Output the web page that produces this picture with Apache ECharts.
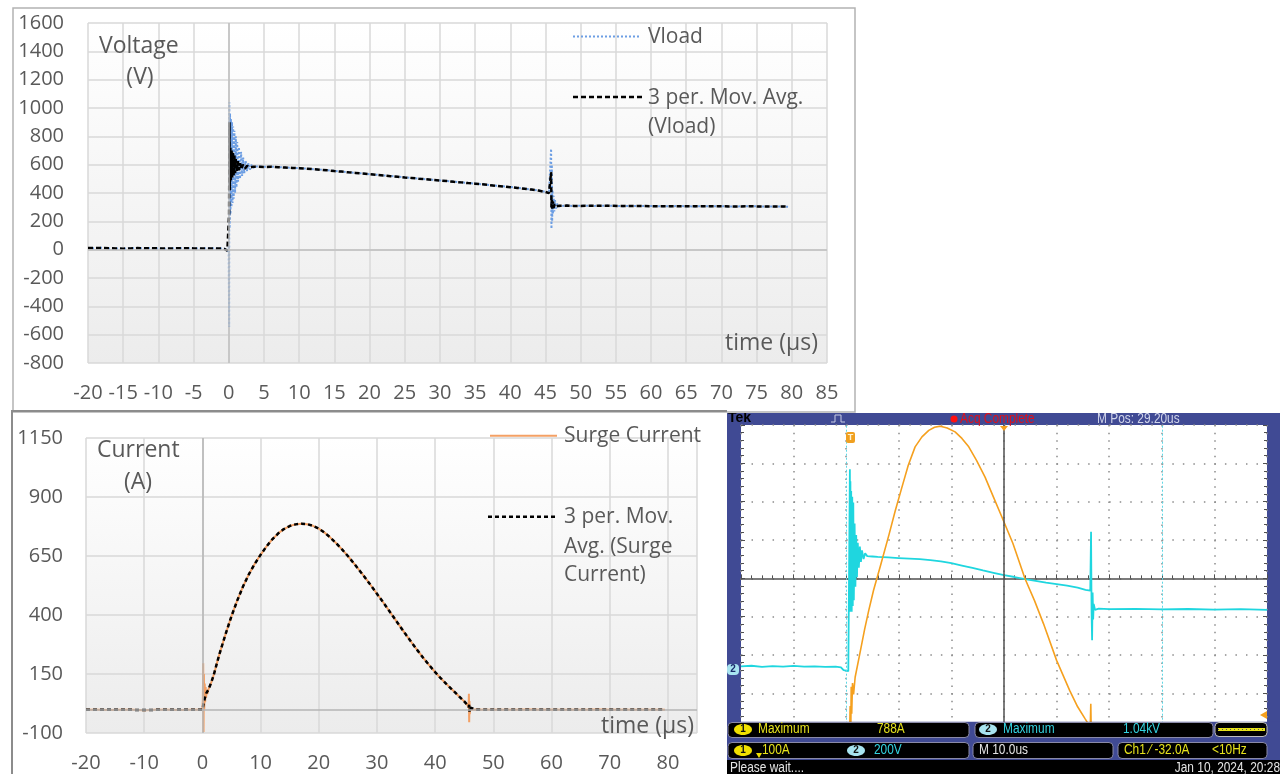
<!DOCTYPE html>
<html><head><meta charset="utf-8">
<script src="https://cdn.jsdelivr.net/npm/echarts@6.0.0/dist/echarts.min.js"></script>
<style>
html,body{margin:0;padding:0;background:#fff;width:1280px;height:774px;overflow:hidden;position:relative}
#topChart{position:absolute;left:0;top:0;width:1280px;height:413px}
#botChart{position:absolute;left:0;top:410px;width:727px;height:364px}
#scopeChart{position:absolute;left:727px;top:413px;width:553px;height:361px}
</style></head><body>
<div id="topChart"></div><div id="botChart"></div><div id="scopeChart"></div>
<script>
// ---------------- DATA (time in µs) ----------------
const vload = [
[-20,12],[-19,10],[-18,14],[-17,9],[-16,8],[-15,6],[-14,10],[-13,12],[-12,9],[-11,13],[-10,8],[-9,7],[-8,10],[-7,11],[-6,9],[-5,10],[-4,8],[-3,10],[-2,9],[-1,8],[-0.6,6],[-0.4,-4],[-0.2,-8],[-0.1,-6],[0,20],
[0.05,-546],[0.08,1040],[0.12,150],[0.18,960],[0.24,250],[0.3,925],[0.38,300],[0.46,900],[0.54,330],[0.62,870],[0.7,360],[0.8,840],[0.9,400],[1.0,800],[1.1,440],[1.2,760],[1.32,480],[1.45,724],[1.6,500],[1.75,690],[1.9,520],[2.05,650],[2.2,540],[2.4,625],[2.6,555],[2.8,610],[3.0,565],[3.25,600],[3.5,578],[4,588],
[5,585],[6,586],[7,583],[8,580],[9,578],[10,575],[11,572],[12,568],[13,565],[14,560],[15,556],[16,551],[17,547],[18,542],[19,538],[20,533],[21,529],[22,524],[23,520],[24,515],[25,511],[26,506],[27,502],[28,497],[29,493],[30,489],[31,484],[32,480],[33,475],[34,471],[35,466],[36,462],[37,457],[38,452],[39,447],[40,442],[41,437],[42,431],[43,425],[44,418],[45,408],[45.5,400],[45.7,392],
[45.8,712],[45.85,148],[45.9,600],[45.95,200],[46.0,420],[46.05,250],[46.15,380],[46.25,270],[46.35,350],[46.5,290],[46.7,325],[47,305],
[48,312],[49,308],[50,310],[52,309],[54,311],[56,307],[58,309],[60,308],[62,306],[64,308],[66,305],[68,307],[70,306],[72,305],[74,307],[76,304],[78,305],[79.5,303]
];
const vloadAvg = [
[-20,11],[-19,11],[-18,12],[-17,10],[-16,8],[-15,7],[-14,9],[-13,11],[-12,10],[-11,11],[-10,9],[-9,8],[-8,9],[-7,10],[-6,10],[-5,9],[-4,9],[-3,9],[-2,9],[-1,8],[-0.6,5],[-0.4,-2],[-0.2,-7],[-0.1,-4],[0,5],
[0.05,256],[0.1,900],[0.15,420],[0.22,720],[0.3,490],[0.4,700],[0.5,510],[0.6,690],[0.7,525],[0.8,665],[0.9,540],[1.0,640],[1.15,550],[1.3,625],[1.45,560],[1.6,610],[1.8,568],[2.0,600],[2.3,572],[2.6,592],[3.0,580],[3.5,586],[4,585],
[5,584],[6,585],[7,582],[8,580],[9,577],[10,575],[11,571],[12,568],[13,564],[14,560],[15,555],[16,551],[17,546],[18,542],[19,537],[20,533],[21,528],[22,524],[23,519],[24,515],[25,510],[26,506],[27,501],[28,497],[29,492],[30,488],[31,484],[32,479],[33,475],[34,470],[35,466],[36,461],[37,456],[38,451],[39,446],[40,441],[41,436],[42,430],[43,424],[44,417],[45,407],[45.5,399],[45.7,392],
[45.8,548],[45.85,300],[45.9,350],[45.95,290],[46.05,340],[46.15,295],[46.3,320],[46.5,305],[47,310],
[48,311],[49,309],[50,309],[52,310],[54,310],[56,308],[58,309],[60,307],[62,307],[64,307],[66,306],[68,306],[70,306],[72,305],[74,306],[76,305],[78,304],[79.5,304]
];
const surgeCurrent = [
[-20,-2],[-18,-1],[-16,-3],[-14,-1],[-12,-2],[-10,-4],[-8,-2],[-6,-1],[-4,-3],[-2,-2],[-0.5,-2],[0,-2],
[0.08,40],[0.14,195],[0.2,-96],[0.26,150],[0.32,0],[0.4,110],[0.48,30],[0.56,95],[0.64,50],[0.72,80],[0.85,65],[1,82],[1.5,112],[2,150],[2.5,196],[3,240],[4,320],[5,395],[6,462],[7,522],[8,573],[9,617],[10,655],[11,690],[12,720],[13,745],[14,764],[15,777],[16,784],[17,787],[18,785],[19,778],[20,766],[21,749],[22,728],[23,704],[24,678],[25,650],[26,620],[27,589],[28,557],[29,524],[30,490],[31,456],[32,421],[33,386],[34,351],[35,316],[36,282],[37,249],[38,217],[39,187],[40,158],[41,131],[42,106],[43,82],[44,58],[45,34],[45.5,20],[45.75,10],
[45.8,66],[45.85,-54],[45.9,35],[45.95,-20],[46.05,8],[46.3,-2],[47,0],[48,-1],[50,-2],[52,-1],[54,-2],[56,0],[58,-1],[60,-2],[62,-1],[64,-2],[66,-1],[68,0],[70,-1],[72,-2],[74,-1],[76,-1],[78,-2],[79.5,-1]
];
const currentAvg = [
[-20,-2],[-18,-2],[-16,-2],[-14,-2],[-12,-2],[-10,-3],[-8,-2],[-6,-2],[-4,-2],[-2,-2],[-0.5,-2],[0,-2],
[0.1,10],[0.2,25],[0.35,40],[0.5,55],[0.7,70],[1,82],[1.5,112],[2,150],[2.5,196],[3,240],[4,320],[5,395],[6,462],[7,522],[8,573],[9,617],[10,655],[11,690],[12,720],[13,745],[14,764],[15,777],[16,784],[17,787],[18,785],[19,778],[20,766],[21,749],[22,728],[23,704],[24,678],[25,650],[26,620],[27,589],[28,557],[29,524],[30,490],[31,456],[32,421],[33,386],[34,351],[35,316],[36,282],[37,249],[38,217],[39,187],[40,158],[41,131],[42,106],[43,82],[44,58],[45,34],[45.5,20],[45.75,10],
[45.85,20],[45.9,-10],[45.95,8],[46.1,0],[47,-1],[48,-1],[50,-1],[52,-1],[54,-1],[56,-1],[58,-1],[60,-1],[62,-1],[64,-1],[66,-1],[68,-1],[70,-1],[72,-1],[74,-1],[76,-1],[78,-1],[79.5,-1]
];
// oscilloscope traces
const scopeCh2Volts = [
[-20,15],[-18,18],[-16,12],[-14,16],[-12,14],[-10,17],[-8,13],[-6,15],[-4,12],[-2,14],[-1,10],[-0.5,-5],[0.4,-10],[0.55,-8],
[0.7,1043],[0.75,300],[0.8,980],[0.88,320],[0.95,930],[1.05,300],[1.15,900],[1.25,330],[1.35,870],[1.45,360],[1.6,760],[1.75,430],[1.9,700],[2.05,480],[2.2,660],[2.4,530],[2.6,640],[2.8,560],[3.0,620],[3.3,575],[3.6,605],[4,590],
[5,588],[6,586],[8,583],[10,580],[12,577],[14,574],[16,569],[18,562],[20,553],[22,541],[24,528],[26,515],[28,503],[30,491],[32,481],[34,470],[36,461],[38,452],[40,444],[42,436],[44,426],[45.5,414],[46.4,410],
[46.55,717],[46.65,300],[46.75,151],[46.85,400],[46.95,260],[47.05,340],[47.3,310],[48,316],[50,313],[55,315],[60,312],[65,314],[70,311],[75,313],[80,310]
];
const scopeCh1Amps = [
[-20,0],[0.4,0],[0.6,-60],[0.75,60],[0.85,-40],[0.95,110],[1.05,40],[1.2,120],[1.4,90],[1.7,135],[2.5,190],[3.5,260],[4.3,310],[5.2,362],[6.5,425],[8.1,505],[9.3,568],[10.6,631],[11.8,688],[13.1,736],[14.4,762],[15.7,779],[16.8,787],[17.9,790],[19.2,785],[20.7,775],[22,758],[23.3,736],[24.8,700],[26.4,657],[28,605],[29.6,553],[31.7,484],[34,392],[35.8,335],[37.5,275],[40,179],[42.5,100],[44,58],[45.4,27],[46.4,5],[46.5,66],[46.6,-20],[47,0],[80,0]
];
const voltTitle = ['Voltage', '(V)'];
const currTitle = ['Current', '(A)'];
const SCOPE_V_PER_DIV = 200, SCOPE_A_PER_DIV = 100;
const CH2_OFFSET_DIV = -2.37, CH1_OFFSET_DIV = -3.93;

// ---------------- STYLE HELPERS ----------------
const GRAY = '#595959';
const OS = '"Open Sans", sans-serif';
const TEK = '"Liberation Sans", Arial, sans-serif';
const plain = v => String(v);
function plotBg(){ return new echarts.graphic.LinearGradient(0,0,0,1,[{offset:0,color:'#ffffff'},{offset:1,color:'#ececec'}]); }
function xAx(min,max,interval,showMax){ return {type:'value',min,max,interval,
  axisLine:{show:false,onZero:false},axisTick:{show:false},
  splitLine:{show:true,lineStyle:{color:'#d9d9d9',width:1.5}},
  axisLabel:{color:GRAY,fontFamily:OS,fontSize:20,margin:20,formatter:plain,showMaxLabel:showMax}}; }
function yAx(min,max,interval,margin){ return {type:'value',min,max,interval,
  axisLine:{show:false,onZero:false},axisTick:{show:false},
  splitLine:{show:true,lineStyle:{color:'#d9d9d9',width:1.5}},
  axisLabel:{color:GRAY,fontFamily:OS,fontSize:20,margin,formatter:plain}}; }
function txt(x,y,text,size,align){ return {type:'text',x,y,silent:true,z:50,
  style:{text,fill:GRAY,font:size+'px '+OS,textAlign:align||'left',verticalAlign:'middle'}}; }
function ln(x1,y1,x2,y2,stroke,w,dash,z){ return {type:'line',silent:true,z:z||50,shape:{x1,y1,x2,y2},style:{stroke,lineWidth:w,lineDash:dash||null}}; }
const zeroLines = (c)=>({silent:true,symbol:['none','none'],label:{show:false},animation:false,
  lineStyle:{color:c,width:1.5,type:'solid'},data:[{yAxis:0},{xAxis:0}]});

// ---------------- TOP: VOLTAGE ----------------
const voltChart = echarts.init(document.getElementById('topChart'), null, {renderer:'canvas'});
voltChart.setOption({
  animation:false,
  grid:{left:88,top:23,width:739,height:340,show:true,backgroundColor:plotBg(),borderWidth:0},
  xAxis:xAx(-20,85,5,true),
  yAxis:yAx(-800,1600,200,24),
  series:[
    {name:'Vload',type:'line',data:vload,symbol:'none',z:2,
     lineStyle:{color:'#6d9ee3',width:2,type:[2,2]},markLine:zeroLines('#bfbfbf')},
    {name:'3 per. Mov. Avg. (Vload)',type:'line',data:vloadAvg,symbol:'none',z:3,
     lineStyle:{color:'#000000',width:2.5,type:[5,3]}}
  ],
  graphic:[
    {type:'rect',silent:true,z:-5,shape:{x:13,y:8,width:842,height:404},style:{fill:'none',stroke:'#b3b3b3',lineWidth:1.5}},
    txt(99,46,voltTitle[0],23),
    txt(140,77,voltTitle[1],23,'center'),
    ln(573,36.5,641,36.5,'#6d9ee3',2,[2,2]),
    txt(648,37,'Vload',21),
    ln(573,97,642,97,'#000',2.5,[5,3]),
    txt(648,98,'3 per. Mov. Avg.',21),
    txt(648,127,'(Vload)',21),
    txt(818,343,'time (µs)',23,'right')
  ]
});

// ---------------- BOTTOM: CURRENT ----------------
const currChart = echarts.init(document.getElementById('botChart'), null, {renderer:'canvas'});
currChart.setOption({
  animation:false,
  grid:{left:86,top:28,width:611,height:295,show:true,backgroundColor:plotBg(),borderWidth:0},
  xAxis:xAx(-20,85,10,false),
  yAxis:yAx(-100,1150,250,23),
  series:[
    {name:'Surge Current',type:'line',data:surgeCurrent,symbol:'none',z:2,
     lineStyle:{color:'#f4a064',width:2},markLine:zeroLines('#b5b5b5')},
    {name:'3 per. Mov. Avg. (Surge Current)',type:'line',data:currentAvg,symbol:'none',z:3,
     lineStyle:{color:'#000000',width:2.5,type:[4,3]}}
  ],
  graphic:[
    {type:'polyline',silent:true,z:-5,shape:{points:[[12,364],[12,1],[727,1]]},style:{fill:null,stroke:'#8c8c8c',lineWidth:2}},
    txt(97,40,currTitle[0],23),
    txt(138,72,currTitle[1],23,'center'),
    ln(490,25.7,557,25.7,'#f4a064',2),
    txt(564,26,'Surge Current',21),
    ln(488,106.7,557,106.7,'#000',2.5,[4,3]),
    txt(564,107,'3 per. Mov.',21),
    txt(564,137,'Avg. (Surge',21),
    txt(564,165,'Current)',21),
    txt(694,316,'time (µs)',23,'right')
  ]
});

// ---------------- OSCILLOSCOPE ----------------
function tt(x,y,text,fill,opts){ opts=opts||{}; return {type:'text',x,y,silent:true,z:100,scaleX:opts.sx||0.85,
  style:{text,fill,font:(opts.bold?'bold ':'')+(opts.size||14)+'px '+TEK,textAlign:opts.align||'left',verticalAlign:'middle'}}; }
function badge(cx,cy,label,fill){ return [
  {type:'ellipse',silent:true,z:100,shape:{cx,cy,rx:9,ry:5.5},style:{fill}},
  {type:'text',silent:true,z:101,x:cx,y:cy,style:{text:label,fill:'#111',font:'bold 10px '+TEK,textAlign:'center',verticalAlign:'middle'}}]; }
function box(x,y,w,h,stroke){ return {type:'rect',silent:true,z:99,shape:{x,y,width:w,height:h,r:4},style:{fill:'#000',stroke:stroke||'#8a8aa8',lineWidth:1}}; }
const YEL='#e6e21c', CYA='#33d3e0';
const scopeChart = echarts.init(document.getElementById('scopeChart'), null, {renderer:'canvas'});
scopeChart.setOption({
  animation:false,
  backgroundColor:'#404a94',
  grid:{left:14,top:12,width:526,height:306.7,show:true,backgroundColor:'#ffffff',borderWidth:0},
  xAxis:{type:'value',min:-20,max:80,interval:10,
    axisLine:{show:true,onZero:true,lineStyle:{color:'#505050',width:1.5}},
    axisTick:{show:true,inside:true,length:4,lineStyle:{color:'#505050'}},
    minorTick:{show:true,splitNumber:5,length:3,lineStyle:{color:'#505050'}},
    axisLabel:{show:false},
    splitLine:{show:true,lineStyle:{color:'#8c8c8c',width:1.5,type:[1.5,6.16]}}},
  yAxis:[
    {type:'value',min:-4,max:4,interval:1,
     axisLine:{show:false,onZero:false},
     axisTick:{show:true,inside:true,length:4,lineStyle:{color:'#505050'}},
     minorTick:{show:true,splitNumber:5,length:3,lineStyle:{color:'#505050'}},
     axisLabel:{show:false},
     splitLine:{show:true,lineStyle:{color:'#8c8c8c',width:1.5,type:[1.5,9.02]}}},
    {type:'value',min:-4,max:4,interval:1,position:'right',
     axisLine:{show:false,onZero:false},
     axisTick:{show:true,inside:true,length:4,lineStyle:{color:'#505050'}},
     minorTick:{show:true,splitNumber:5,length:3,lineStyle:{color:'#505050'}},
     axisLabel:{show:false},splitLine:{show:false}}
  ],
  series:[
    {type:'line',data:scopeCh2Volts.map(([t,v])=>[t,v/SCOPE_V_PER_DIV+CH2_OFFSET_DIV]),symbol:'none',z:3,
     lineStyle:{color:'#1fd6df',width:1.8},
     markLine:{silent:true,symbol:['none','none'],label:{show:false},
       data:[
         {xAxis:0,lineStyle:{color:'#5fd8e6',width:1,type:[2,2]}},
         {xAxis:60,lineStyle:{color:'#5fd8e6',width:1,type:[2,2]}},
         {xAxis:30,lineStyle:{color:'#505050',width:1.5,type:'solid'}}
       ]}},
    {type:'line',data:scopeCh1Amps.map(([t,a])=>[t,a/SCOPE_A_PER_DIV+CH1_OFFSET_DIV]),symbol:'none',z:4,
     lineStyle:{color:'#f5a01e',width:1.6}}
  ],
  graphic:[
    tt(1,5,'Tek','#000',{bold:true,sx:1}),
    {type:'polyline',silent:true,z:100,shape:{points:[[104,9],[108,9],[108,2],[114,2],[114,9],[118,9]]},style:{fill:null,stroke:'#c8cce4',lineWidth:1}},
    {type:'circle',silent:true,z:100,shape:{cx:227,cy:6,r:3.5},style:{fill:'#ff1010'}},
    tt(233,6,'Acq Complete','#e0101a'),
    tt(370,6,'M Pos: 29.20us','#d0d4ea'),
    {type:'polygon',silent:true,z:100,shape:{points:[[273,13],[281,13],[277,18]]},style:{fill:'#f5a01e'}},
    {type:'rect',silent:true,z:100,shape:{x:119,y:19,width:9,height:11,r:2},style:{fill:'#f0a020'}},
    {type:'text',silent:true,z:101,x:123.5,y:24.5,style:{text:'T',fill:'#fff3d0',font:'bold 9px '+TEK,textAlign:'center',verticalAlign:'middle'}},
    {type:'polygon',silent:true,z:100,shape:{points:[[533,302],[540,298],[540,306]]},style:{fill:'#f5a01e'}},
    {type:'rect',silent:true,z:100,shape:{x:0,y:251,width:12,height:11,r:4},style:{fill:'#a8e4f0'}},
    {type:'text',silent:true,z:101,x:6,y:256.5,style:{text:'2',fill:'#1a2a6a',font:'bold 10px '+TEK,textAlign:'center',verticalAlign:'middle'}},
    {type:'rect',silent:true,z:98,shape:{x:0,y:308.7,width:553,height:53},style:{fill:'#404a94'}},
    box(1,309.5,241,15), box(248,309.5,238,15), box(488,309.5,52,14,'#c0c0c0'),
    ln(491,316.5,538,316.5,YEL,3,null,101),
    ln(491,316.5,538,316.5,'#555',1,[1,3],102),
    box(1,329.5,241,16), box(246,329.5,140,16), box(391,329.5,149,16),
    {type:'rect',silent:true,z:99,shape:{x:0,y:347,width:553,height:14},style:{fill:'#000'}},
    ...badge(16,316.5,'1','#f0e000'),
    tt(31,316.5,'Maximum',YEL),
    tt(150,316.5,'788A',YEL),
    ...badge(261,316.5,'2','#a8e4f0'),
    tt(276,316.5,'Maximum',CYA),
    tt(396,316.5,'1.04kV',CYA),
    ...badge(16,337.5,'1','#f0e000'),
    {type:'polygon',silent:true,z:100,shape:{points:[[29,340],[35,340],[32,345]]},style:{fill:'#f0e000'}},
    tt(35,337,'100A',YEL),
    ...badge(129,337.5,'2','#a8e4f0'),
    tt(147,337,'200V',CYA),
    tt(252,337,'M 10.0us','#e4e4e4'),
    tt(397,337,'Ch1 \u2044 -32.0A',YEL),
    tt(485,337,'<10Hz',YEL),
    tt(3,355,'Please wait....','#e4e4e4'),
    tt(553,355,'Jan 10, 2024, 20:28','#e4e4e4',{align:'right'})
  ]
});
</script>
</body></html>
